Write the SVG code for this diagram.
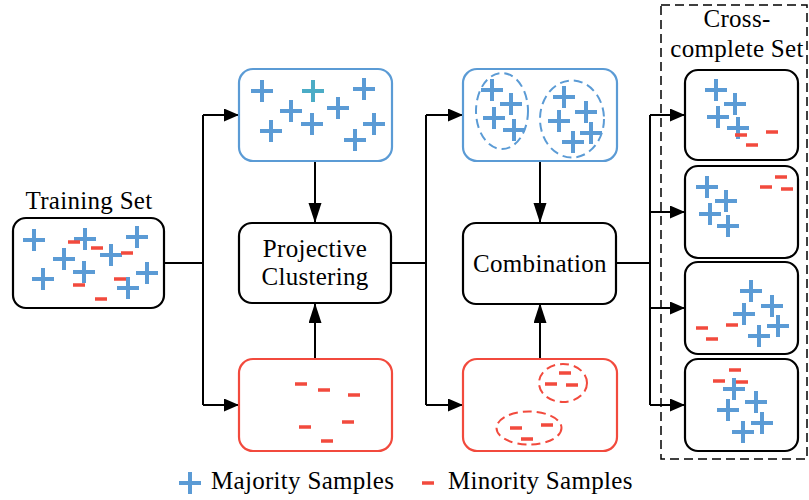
<svg xmlns="http://www.w3.org/2000/svg" xmlns:xlink="http://www.w3.org/1999/xlink" width="809" height="500" viewBox="0 0 809 500">
<style>
.t{font-family:"Liberation Serif","Times New Roman",serif;font-size:25px;fill:#000;letter-spacing:0.3px}
.bk{fill:#fff;stroke:#000;stroke-width:2.2}
.bl{fill:#fff;stroke:#5B9BD5;stroke-width:2.2}
.rd{fill:#fff;stroke:#F24A3D;stroke-width:2.2}
.ln{fill:none;stroke:#000;stroke-width:2}
.ar{fill:none;stroke:#000;stroke-width:2;marker-end:url(#ah)}
.av{fill:none;stroke:#000;stroke-width:2;marker-end:url(#av)}
.pl{stroke:#5B9BD5;stroke-width:4;fill:none}
.pt{stroke:#4BACC6;stroke-width:4;fill:none}
.mn{stroke:#F24A3D;stroke-width:3.5;fill:none}
.eb{fill:none;stroke:#5B9BD5;stroke-width:2;stroke-dasharray:9,5}
.er{fill:none;stroke:#F24A3D;stroke-width:2;stroke-dasharray:9,5}
</style>
<defs>
<marker id="ah" markerUnits="userSpaceOnUse" markerWidth="16" markerHeight="14" refX="15" refY="6.5" orient="auto"><path d="M0,0 L15,6.5 L0,13 z" fill="#000"/></marker>
<marker id="av" markerUnits="userSpaceOnUse" markerWidth="21" markerHeight="14" refX="20" refY="6.5" orient="auto"><path d="M0,0 L20,6.5 L0,13 z" fill="#000"/></marker>
<path id="p" d="M-11,0 H11 M0,-11 V11"/>
<path id="m" d="M-6,0 H6"/>
</defs>

<g id="connectors">
<path class="ln" d="M164,263 H203 M203,115 V405"/>
<path class="ar" d="M203,115 H239"/>
<path class="ar" d="M203,405 H239"/>
<path class="av" d="M315,161 V223"/>
<path class="av" d="M315,359 V303"/>
<path class="ln" d="M391,263 H426 M426,115 V405"/>
<path class="ar" d="M426,115 H463"/>
<path class="ar" d="M426,405 H463"/>
<path class="av" d="M540,161 V223"/>
<path class="av" d="M540,359 V303"/>
<path class="ln" d="M617,263 H650 M650,115 V405"/>
<path class="ar" d="M650,115 H685"/>
<path class="ar" d="M650,212 H685"/>
<path class="ar" d="M650,308 H685"/>
<path class="ar" d="M650,405 H685"/>
</g>

<g id="training-set">
<text class="t" x="89" y="209" text-anchor="middle">Training Set</text>
<rect class="bk" x="13" y="218" width="151" height="90" rx="13"/>
<g class="pl">
<use href="#p" x="34" y="240"/><use href="#p" x="85" y="239"/><use href="#p" x="137" y="237"/>
<use href="#p" x="64" y="259"/><use href="#p" x="111" y="255"/><use href="#p" x="84" y="272"/>
<use href="#p" x="43" y="279"/><use href="#p" x="147" y="273"/><use href="#p" x="128" y="288"/>
</g>
<g class="mn">
<use href="#m" x="74" y="242"/><use href="#m" x="97" y="248"/><use href="#m" x="127" y="253"/>
<use href="#m" x="79" y="285"/><use href="#m" x="120" y="279"/><use href="#m" x="101" y="299"/>
</g>
</g>

<g id="majority">
<rect class="bl" x="239" y="69" width="153" height="92" rx="14"/>
<g class="pl">
<use href="#p" x="262" y="91"/><use href="#p" x="364" y="89"/>
<use href="#p" x="291" y="111"/><use href="#p" x="338" y="108"/><use href="#p" x="271" y="131"/>
<use href="#p" x="312" y="124"/><use href="#p" x="374" y="124"/><use href="#p" x="355" y="140"/>
</g>
<use class="pt" href="#p" x="313" y="91"/>
</g>

<g id="projective-clustering">
<rect class="bk" x="239" y="223" width="152" height="80" rx="13"/>
<text class="t" x="315" y="257" text-anchor="middle">Projective</text>
<text class="t" x="315" y="285" text-anchor="middle">Clustering</text>
</g>

<g id="minority">
<rect class="rd" x="239" y="359" width="153" height="92" rx="14"/>
<g class="mn">
<use href="#m" x="301" y="384"/><use href="#m" x="324" y="390"/><use href="#m" x="354" y="395"/>
<use href="#m" x="305" y="427"/><use href="#m" x="348" y="422"/><use href="#m" x="327" y="441"/>
</g>
</g>

<g id="majority-clusters">
<rect class="bl" x="463" y="69" width="154" height="92" rx="14"/>
<ellipse class="eb" cx="502" cy="111" rx="26" ry="38"/>
<ellipse class="eb" cx="572" cy="119" rx="32" ry="38.5"/>
<g class="pl">
<use href="#p" x="492" y="90"/><use href="#p" x="511" y="104"/><use href="#p" x="494" y="118"/><use href="#p" x="514" y="130"/>
<use href="#p" x="564" y="97"/><use href="#p" x="586" y="112"/><use href="#p" x="559" y="121"/><use href="#p" x="591" y="133"/><use href="#p" x="573" y="142"/>
</g>
</g>

<g id="combination">
<rect class="bk" x="463" y="223" width="153" height="81" rx="13"/>
<text class="t" x="540" y="272" text-anchor="middle">Combination</text>
</g>

<g id="minority-clusters">
<rect class="rd" x="463" y="359" width="154" height="92" rx="14"/>
<ellipse class="er" cx="563" cy="383" rx="24" ry="19"/>
<ellipse class="er" cx="529" cy="428" rx="32.5" ry="16.5"/>
<g class="mn">
<use href="#m" x="565" y="373"/><use href="#m" x="551" y="384"/><use href="#m" x="572" y="385"/>
<use href="#m" x="516" y="428"/><use href="#m" x="547" y="425"/><use href="#m" x="527" y="439"/>
</g>
</g>

<g id="cross-complete-set">
<rect x="661" y="5" width="146" height="454" fill="none" stroke="#000" stroke-width="1.5" stroke-dasharray="9,5"/>
<text class="t" x="737" y="27" text-anchor="middle">Cross-</text>
<text class="t" x="737" y="57" text-anchor="middle">complete Set</text>
</g>

<g id="cross-1">
<rect class="bk" x="685" y="70" width="113" height="90" rx="13"/>
<g class="pl"><use href="#p" x="716" y="90"/><use href="#p" x="735" y="104"/><use href="#p" x="718" y="117"/><use href="#p" x="738" y="128"/></g>
<g class="mn"><use href="#m" x="741" y="135"/><use href="#m" x="772" y="132"/><use href="#m" x="752" y="145"/></g>
</g>

<g id="cross-2">
<rect class="bk" x="685" y="166" width="113" height="92" rx="13"/>
<g class="pl"><use href="#p" x="707" y="187"/><use href="#p" x="726" y="201"/><use href="#p" x="710" y="214"/><use href="#p" x="728" y="226"/></g>
<g class="mn"><use href="#m" x="781" y="177"/><use href="#m" x="766" y="187"/><use href="#m" x="787" y="189"/></g>
</g>

<g id="cross-3">
<rect class="bk" x="685" y="262" width="113" height="92" rx="13"/>
<g class="pl"><use href="#p" x="751" y="291"/><use href="#p" x="772" y="306"/><use href="#p" x="744" y="314"/><use href="#p" x="778" y="326"/><use href="#p" x="759" y="336"/></g>
<g class="mn"><use href="#m" x="702" y="328"/><use href="#m" x="732" y="325"/><use href="#m" x="712" y="339"/></g>
</g>

<g id="cross-4">
<rect class="bk" x="685" y="359" width="113" height="92" rx="13"/>
<g class="pl"><use href="#p" x="734" y="389"/><use href="#p" x="756" y="402"/><use href="#p" x="728" y="410"/><use href="#p" x="762" y="423"/><use href="#p" x="743" y="432"/></g>
<g class="mn"><use href="#m" x="735" y="370"/><use href="#m" x="719" y="381"/><use href="#m" x="742" y="382"/></g>
</g>

<g id="legend">
<use class="pl" href="#p" x="190" y="483"/>
<text class="t" x="211" y="489">Majority Samples</text>
<use class="mn" href="#m" x="428" y="483"/>
<text class="t" x="448" y="489">Minority Samples</text>
</g>
</svg>
